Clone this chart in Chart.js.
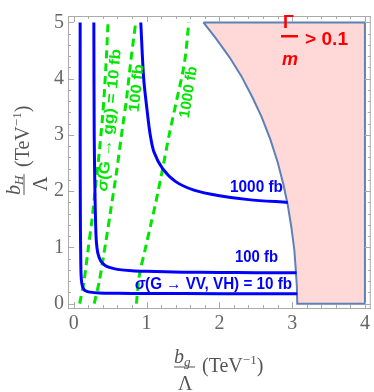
<!DOCTYPE html>
<html lang="en">
<head>
<meta charset="UTF-8">
<title>Graviton cross-section contours</title>
<script src="https://cdn.jsdelivr.net/npm/chart.js"></script>
<style>
  body { margin: 0; background: #fff; }
</style>
</head>
<body>
<canvas id="plot" width="374" height="392"></canvas>
<script>
// axis ticks
const xTicks = [0, 1, 2, 3, 4];
const yTicks = [0, 1, 2, 3, 4, 5];

// sigma(G -> VV, VH) contours, points are [b_g, b_H]
const vv10 = [[0.087, 5.0], [0.087, 3.0], [0.09, 1.5], [0.095, 0.8], [0.10, 0.5], [0.11, 0.36], [0.13, 0.27],
  [0.16, 0.23], [0.22, 0.205], [0.35, 0.19], [0.6, 0.185], [1.0, 0.18], [2.0, 0.178], [3.07, 0.177]];
const vv100 = [[0.275, 5.0], [0.28, 3.0], [0.29, 2.0], [0.30, 1.4], [0.31, 1.1], [0.33, 0.9], [0.37, 0.76],
  [0.43, 0.68], [0.5, 0.64], [0.6, 0.61], [0.8, 0.585], [1.0, 0.575], [1.5, 0.56], [2.0, 0.555], [2.5, 0.55], [3.06, 0.548]];
const vv1000 = [[0.92, 5.0], [0.96, 4.0], [1.01, 3.4], [1.05, 3.0], [1.10, 2.7], [1.22, 2.4], [1.40, 2.17],
  [1.65, 2.02], [2.0, 1.92], [2.4, 1.85], [2.94, 1.80]];

// sigma(G -> gg) contours
const gg10 = [[0.08, 0], [0.14, 0.4], [0.2, 1.0], [0.25, 1.5], [0.3, 2.1], [0.35, 2.7], [0.4, 3.4], [0.44, 4.2], [0.47, 5.0]];
const gg100 = [[0.28, 0], [0.35, 0.4], [0.44, 1.1], [0.5, 1.6], [0.58, 2.28], [0.67, 3.14], [0.72, 3.6], [0.78, 4.28], [0.85, 5.0]];
const gg1000 = [[0.86, 0], [0.9, 0.5], [0.99, 1.02], [1.06, 1.42], [1.13, 1.82], [1.22, 2.4], [1.31, 3.0], [1.40, 3.54], [1.52, 4.28], [1.58, 5.0]];

// Gamma/m > 0.1 excluded region (curved edge, then the box corners)
const widthEdge = [[1.78, 5.0], [1.95, 4.72], [2.14, 4.38], [2.3, 4.05], [2.45, 3.68], [2.58, 3.32], [2.7, 2.92],
  [2.8, 2.52], [2.88, 2.12], [2.94, 1.75], [2.99, 1.35], [3.03, 0.95], [3.05, 0.6], [3.065, 0.3], [3.07, 0]];
const widthCorners = [[4, 0], [4, 5], [1.78, 5.0]];

const pts = arr => arr.map(p => ({ x: p[0], y: p[1] }));

const BLUE = '#0000ff';
const GREEN = '#00e600';
const SERIF = '"Liberation Serif", "DejaVu Serif", serif';
const SANS = '"Liberation Sans", Arial, sans-serif';

function blueLine(data) {
  return { data: pts(data), showLine: true, borderColor: BLUE, borderWidth: 3, pointRadius: 0, tension: 0.3, fill: false, order: 1 };
}
function greenLine(data) {
  return { data: pts(data), showLine: true, borderColor: GREEN, borderWidth: 3, borderDash: [8, 5], pointRadius: 0, tension: 0.3, fill: false, order: 2 };
}

// draw text pieces one after another, squeezed to a given width
function runsWidth(ctx, runs) {
  let w = 0;
  for (const r of runs) { ctx.font = r[1]; w += ctx.measureText(r[0]).width; }
  return w;
}
function drawRuns(ctx, runs, x, y, targetW) {
  const w = runsWidth(ctx, runs);
  const sx = targetW ? targetW / w : 1;
  ctx.save();
  ctx.translate(x, y);
  ctx.scale(sx, 1);
  ctx.textAlign = 'left';
  ctx.textBaseline = 'alphabetic';
  let cx = 0;
  for (const r of runs) {
    ctx.font = r[1];
    ctx.fillText(r[0], cx, r[2] || 0);
    cx += ctx.measureText(r[0]).width;
  }
  ctx.restore();
}

// b_sub / Lambda (TeV^-1), origin at the fraction bar centre
function axisTitle(ctx, sub, cx, cy, rot) {
  ctx.save();
  ctx.translate(cx, cy);
  ctx.rotate(rot);
  ctx.fillStyle = '#555';
  drawRuns(ctx, [['b', 'italic 20px ' + SERIF], [sub, 'italic 13px ' + SERIF, 3]], -10, -4);
  ctx.fillRect(-10, -0.5, 21, 1);
  drawRuns(ctx, [['Λ', '20px ' + SERIF]], -6, 23);
  drawRuns(ctx, [['(TeV', '20px ' + SERIF], ['−1', '13px ' + SERIF, -8], [')', '20px ' + SERIF]], 18, 5);
  ctx.restore();
}

const decor = {
  id: 'decor',
  afterDatasetsDraw(chart) {
    const { ctx, chartArea: a, scales: { x, y } } = chart;
    ctx.save();
    // frame and inward ticks
    ctx.strokeStyle = '#aaa';
    ctx.lineWidth = 1;
    ctx.beginPath();
    ctx.moveTo(a.left, a.top + 0.5); ctx.lineTo(a.right, a.top + 0.5);
    ctx.moveTo(a.right - 0.5, a.top); ctx.lineTo(a.right - 0.5, a.bottom);
    for (let i = 0; i <= 20; i++) {
      const v = i / 5, px = Math.round(x.getPixelForValue(v)) + 0.5;
      const len = i % 5 === 0 ? 6 : 3;
      ctx.moveTo(px, a.bottom); ctx.lineTo(px, a.bottom - len);
      ctx.moveTo(px, a.top); ctx.lineTo(px, a.top + len);
    }
    for (let i = 0; i <= 25; i++) {
      const v = i / 5, py = Math.round(y.getPixelForValue(v)) + 0.5;
      const len = i % 5 === 0 ? 6 : 3;
      ctx.moveTo(a.left, py); ctx.lineTo(a.left + len, py);
      ctx.moveTo(a.right, py); ctx.lineTo(a.right - len, py);
    }
    ctx.stroke();

    // Gamma / m > 0.1
    ctx.fillStyle = '#ff0000';
    drawRuns(ctx, [['Γ', 'bold 18px ' + SANS]], 283, 28);
    ctx.fillRect(281, 35, 17, 2.5);
    drawRuns(ctx, [['m', 'italic bold 18px ' + SANS]], 282, 65);
    drawRuns(ctx, [['> 0.1', 'bold 18px ' + SANS]], 305, 45, 43);

    // VV contour labels
    ctx.fillStyle = BLUE;
    drawRuns(ctx, [['1000 fb', 'bold 16px ' + SANS]], 230, 192, 53);
    drawRuns(ctx, [['100 fb', 'bold 16px ' + SANS]], 235, 262, 43);
    drawRuns(ctx, [['σ', 'italic bold 16px ' + SANS], ['(G → VV, VH) = 10 fb', 'bold 16px ' + SANS]], 135, 289, 157);

    // gg contour labels, rotated beside the dashed lines
    ctx.fillStyle = GREEN;
    const rotLabel = (runs, cx, cy, deg, w) => {
      ctx.save();
      ctx.translate(cx, cy);
      ctx.rotate(deg * Math.PI / 180);
      drawRuns(ctx, runs, -w / 2, 5, w);
      ctx.restore();
    };
    rotLabel([['σ', 'italic bold 15px ' + SANS], ['(G → gg) = 10 fb', 'bold 15px ' + SANS]], 109, 120, -84.5, 143);
    rotLabel([['100 fb', 'bold 15px ' + SANS]], 136, 88, -84, 48);
    rotLabel([['1000 fb', 'bold 15px ' + SANS]], 188, 92, -81, 52);

    // axis titles
    axisTitle(ctx, 'H', 24, 185, -Math.PI / 2);
    axisTitle(ctx, 'g', 184, 367, 0);
    ctx.restore();
  }
};

new Chart(document.getElementById('plot'), {
  type: 'scatter',
  data: {
    datasets: [
      { data: pts(widthEdge.concat(widthCorners)), showLine: true, fill: 'shape', backgroundColor: '#ffd8d8',
        borderColor: '#5e81b5', borderWidth: 2, pointRadius: 0, tension: 0, order: 10 },
      greenLine(gg10), greenLine(gg100), greenLine(gg1000),
      blueLine(vv10), blueLine(vv100), blueLine(vv1000)
    ]
  },
  options: {
    responsive: false,
    animation: false,
    layout: { padding: { left: 0, top: 5, right: 3, bottom: 0 } },
    plugins: { legend: { display: false }, tooltip: { enabled: false } },
    scales: {
      x: {
        type: 'linear', min: -0.08, max: 4.08,
        afterBuildTicks: s => { s.ticks = xTicks.map(v => ({ value: v })); },
        afterFit: s => { s.height = 84; },
        grid: { display: false, drawTicks: false },
        border: { display: true, color: '#aaa', width: 1 },
        ticks: { font: { family: SERIF, size: 20 }, color: '#666', padding: 4, maxRotation: 0, autoSkip: false }
      },
      y: {
        type: 'linear', min: -0.077, max: 5.115,
        afterBuildTicks: s => { s.ticks = yTicks.map(v => ({ value: v })); },
        afterFit: s => { s.width = 68; },
        grid: { display: false, drawTicks: false },
        border: { display: true, color: '#aaa', width: 1 },
        ticks: { font: { family: SERIF, size: 20 }, color: '#666', padding: 4, autoSkip: false }
      }
    }
  },
  plugins: [decor]
});
</script>
</body>
</html>
